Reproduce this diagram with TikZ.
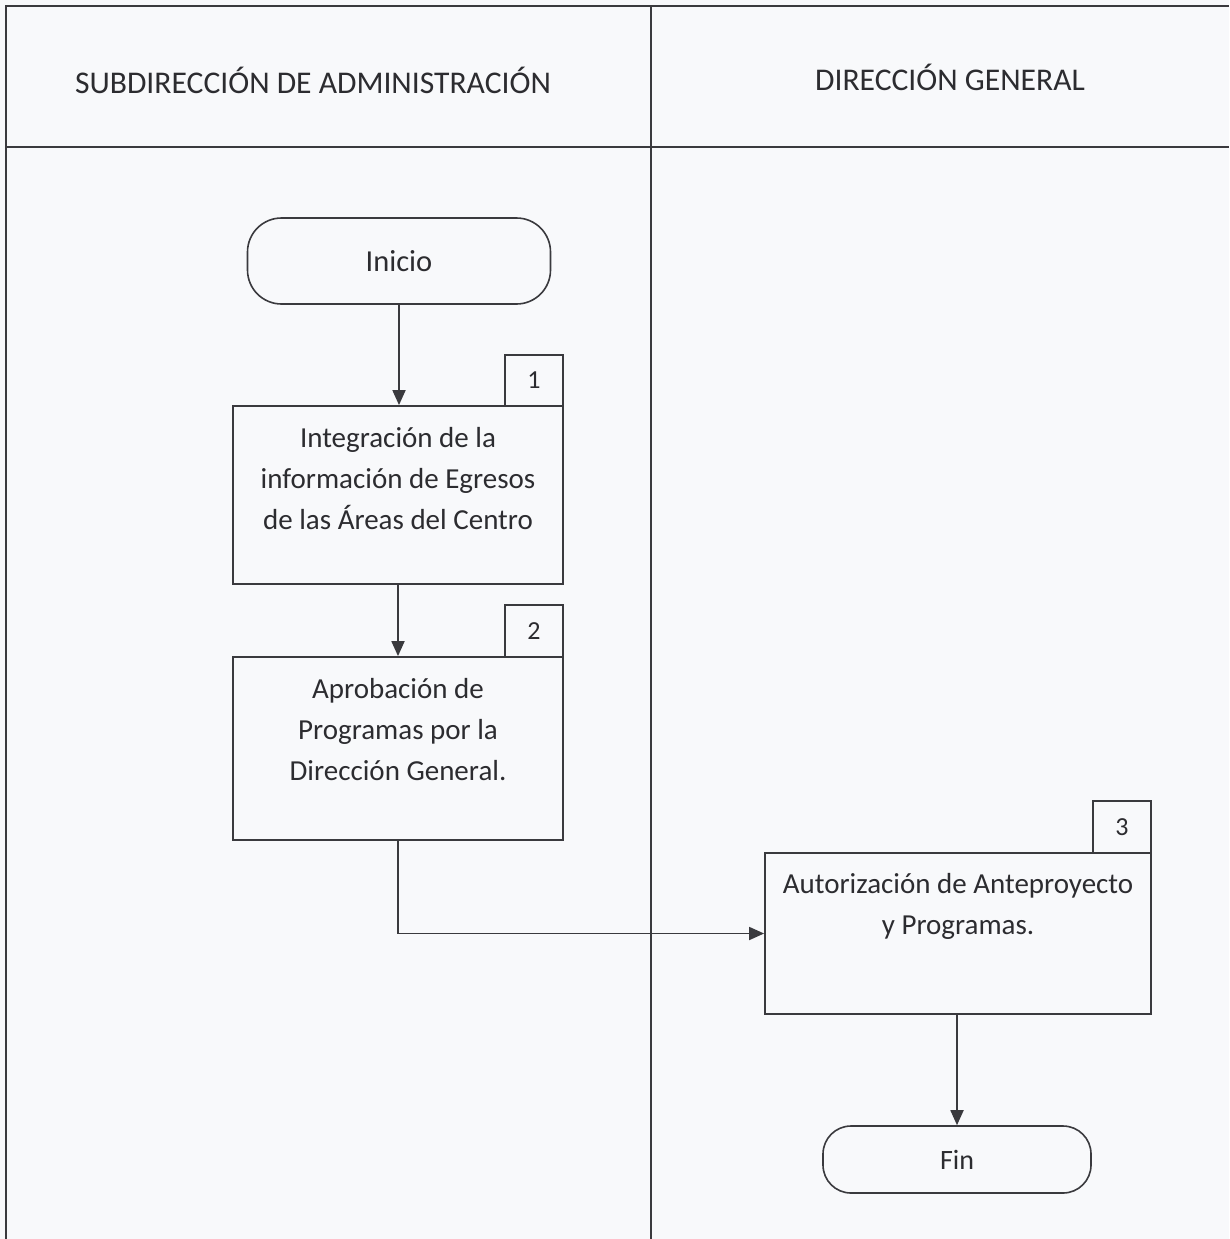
\documentclass[tikz,border=0pt]{standalone}
\usepackage{fontspec}
\setmainfont{Carlito}
\usetikzlibrary{arrows.meta}
\definecolor{ln}{HTML}{3A3A3E}
\definecolor{tx}{HTML}{2C2C30}
\definecolor{bg}{HTML}{F8F9FB}
\begin{document}
\begin{tikzpicture}[x=1pt,y=-1pt,
  frame/.style={draw=ln,line width=1.6pt},
  proc/.style={draw=ln,line width=1.8pt,rectangle,inner sep=0pt},
  term/.style={draw=ln,line width=1.6pt,rectangle,inner sep=0pt},
  tabbox/.style={draw=ln,line width=1.6pt,rectangle,inner sep=0pt,minimum width=58pt,minimum height=51pt,font=\fontsize{26}{30}\selectfont,text=tx},
  body/.style={align=center,font=\fontsize{29}{41}\selectfont,text=tx,inner sep=0pt},
  head/.style={font=\fontsize{31.6}{38}\selectfont,text=tx,inner sep=0pt},
  flow/.style={draw=ln,line width=1.8pt,-{Triangle[length=15pt,width=13pt]}}
]
\path[fill=bg] (0,0) rectangle (1229,1239);
\useasboundingbox (0,0) rectangle (1229,1239);
% frame
\draw[frame] (6,1239) -- (6,6) -- (1229,6);
\draw[frame] (6,147) -- (1229,147);
\draw[frame] (651,6) -- (651,1239);
% headers
\node[head] (h1) at (313,80) {SUBDIRECCIÓN DE ADMINISTRACIÓN};
\node[head] (h2) at (950,77) {DIRECCIÓN GENERAL};
% terminals
\node[term,rounded corners=34pt,minimum width=303pt,minimum height=86pt,font=\fontsize{30.5}{36}\selectfont,text=tx] (ini) at (399,261) {Inicio};
\node[term,rounded corners=28pt,minimum width=268pt,minimum height=67pt,font=\fontsize{28}{34}\selectfont,text=tx] (fin) at (957,1159.5) {Fin};
% tabs
\node[tabbox] (k1) at (534,380.5) {1};
\node[tabbox,minimum height=52pt] (k2) at (534,631) {2};
\node[tabbox,minimum height=52pt] (k3) at (1122,827) {3};
% process boxes
\node[proc,minimum width=330pt,minimum height=178pt] (b1) at (398,495) {};
\node[proc,minimum width=330pt,minimum height=183pt] (b2) at (398,748.5) {};
\node[proc,minimum width=386pt,minimum height=161pt] (b3) at (958,933.5) {};
% texts
\node[body] (t1) at (398,479) {Integración de la\\información de Egresos\\de las Áreas del Centro};
\node[body] (t2) at (398,730) {Aprobación de\\Programas por la\\Dirección General.};
\node[body] (t3) at (958,906) {Autorización de Anteproyecto\\y Programas.};
% connectors
\draw[flow] (ini.south) -- (ini.south |- b1.north);
\draw[flow] (b1.south) -- (b2.north);
\draw[flow] (b2.south) |- (b3.west);
\draw[flow] (b3.south -| fin.north) -- (fin.north);
\end{tikzpicture}
\end{document}
